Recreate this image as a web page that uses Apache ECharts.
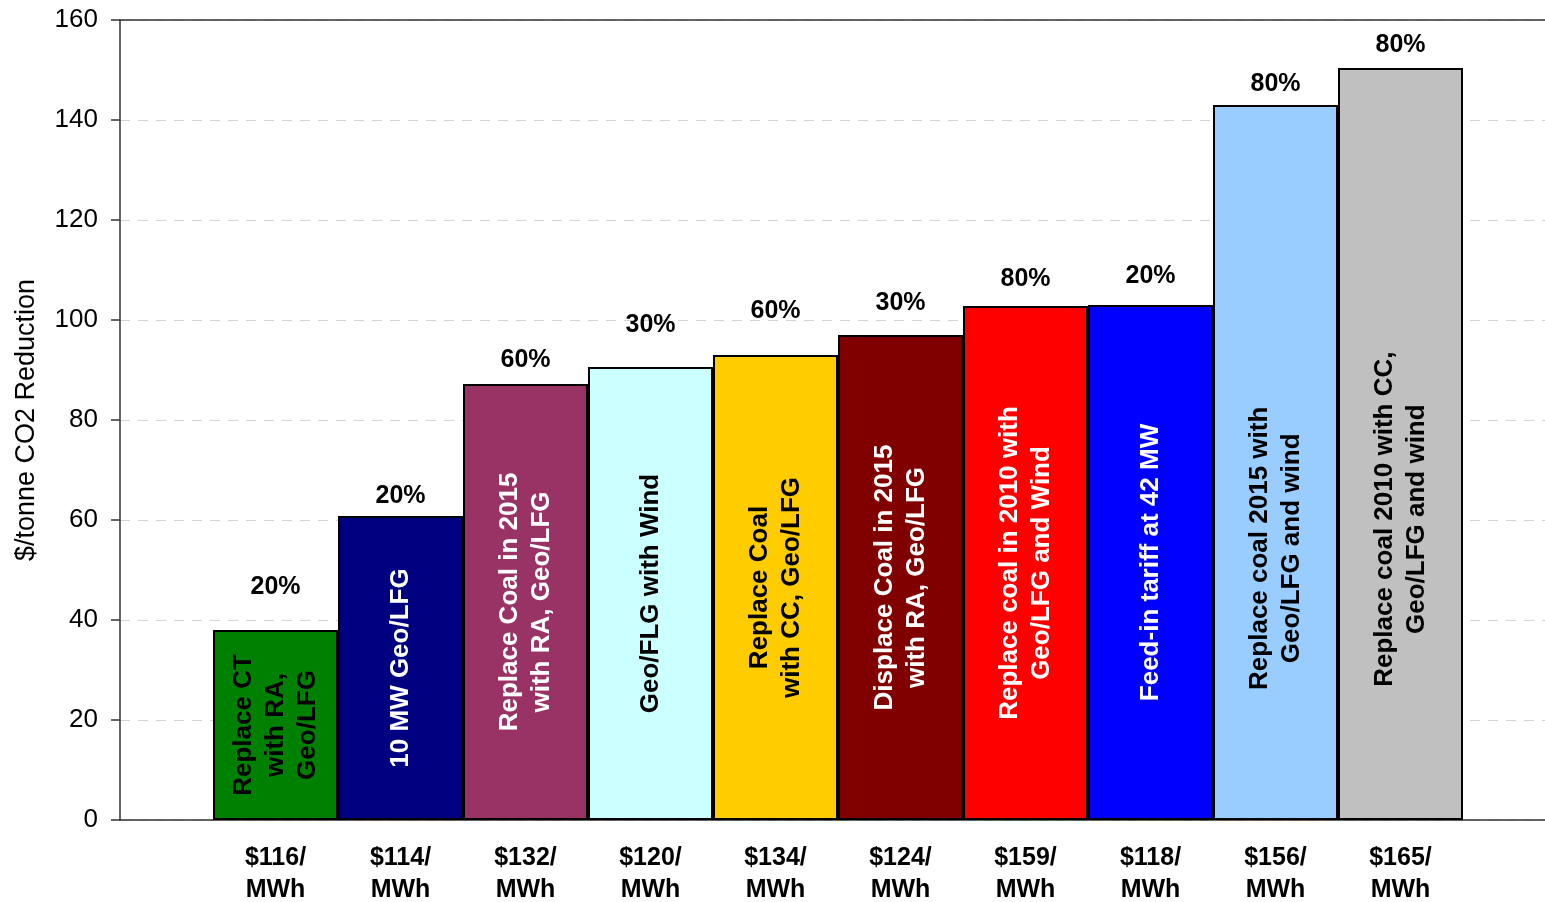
<!DOCTYPE html>
<html>
<head>
<meta charset="utf-8">
<title>Cost of CO2 reduction by option</title>
<script src="https://cdn.jsdelivr.net/npm/echarts@6/dist/echarts.min.js"></script>
<style>
  html, body { margin: 0; padding: 0; background: #ffffff; }
  #chart { width: 1545px; height: 902px; }
</style>
</head>
<body>
<div id="chart"></div>
<script>
// Options (drawn as rotated text inside each bar)
const options = [
  'Replace CT\nwith RA,\nGeo/LFG',
  '10 MW Geo/LFG',
  'Replace Coal in 2015\nwith RA, Geo/LFG',
  'Geo/FLG with Wind',
  'Replace Coal\nwith CC, Geo/LFG',
  'Displace Coal in 2015\nwith RA, Geo/LFG',
  'Replace coal in 2010 with\nGeo/LFG and Wind',
  'Feed-in tariff at 42 MW',
  'Replace coal 2015 with\nGeo/LFG and wind',
  'Replace coal 2010 with CC,\nGeo/LFG and wind'
];

// $/tonne CO2 reduction for each option
const costPerTonne = [38, 60.8, 87.2, 90.6, 93, 97, 102.8, 103, 143, 150.4];

// Share of renewables shown above each bar
const shares = ['20%', '20%', '60%', '30%', '60%', '30%', '80%', '20%', '80%', '80%'];

// Cost of energy shown under each bar ($/MWh)
const energyCost = [116, 114, 132, 120, 134, 124, 159, 118, 156, 165];

// Y axis ticks
const yMin = 0, yMax = 160, yStep = 20;

// ---- styling ----
const barColors = ['#008000', '#000080', '#993366', '#CCFFFF', '#FFCC00',
                   '#800000', '#FF0000', '#0000FF', '#99CCFF', '#C0C0C0'];
const textColors = ['#000', '#fff', '#fff', '#000', '#000',
                    '#fff', '#fff', '#fff', '#000', '#000'];
// where the rotated text sits inside a bar (null = centred)
const textPos = [null, null, null, null, null, null, null, null, ['50%', '62%'], ['50%', '60%']];
// gap between bar top and the share label
const shareGap = [30, 7, 11, 29, 31, 19, 14, 16, 8, 10];

const FONT = "'Liberation Sans', Arial, Helvetica, sans-serif";
const AXIS_COLOR = '#333';

const barData = costPerTonne.map((v, i) => {
  const lbl = {
    show: true,
    formatter: options[i],
    color: textColors[i],
    rotate: 90,
    align: 'center',
    verticalAlign: 'middle'
  };
  lbl.position = textPos[i] ? textPos[i] : 'inside';
  return { value: v, itemStyle: { color: barColors[i] }, label: lbl };
});

const shareData = costPerTonne.map((v, i) => ({
  value: v,
  label: { distance: shareGap[i] }
}));

const chart = echarts.init(document.getElementById('chart'), null, { renderer: 'canvas' });

chart.setOption({
  animation: false,
  backgroundColor: '#ffffff',
  textStyle: { fontFamily: FONT },
  grid: [
    // frame: y axis, gridlines, top and bottom lines
    { left: 120, right: 0, top: 20, bottom: 82, containLabel: false, outerBoundsMode: 'none' },
    // bars
    { left: 213, right: 82, top: 20, bottom: 82, containLabel: false, outerBoundsMode: 'none' }
  ],
  xAxis: [
    {
      gridIndex: 0, type: 'value', position: 'bottom', min: 0, max: 1,
      axisLine: { show: true, onZero: false, lineStyle: { color: AXIS_COLOR, width: 1.5 } },
      axisTick: { show: false }, axisLabel: { show: false }, splitLine: { show: false }
    },
    {
      gridIndex: 0, type: 'value', position: 'top', min: 0, max: 1,
      axisLine: { show: true, onZero: false, lineStyle: { color: AXIS_COLOR, width: 1.5 } },
      axisTick: { show: false }, axisLabel: { show: false }, splitLine: { show: false }
    },
    {
      gridIndex: 1, type: 'category', data: energyCost,
      axisLine: { show: false }, axisTick: { show: false },
      axisLabel: {
        interval: 0,
        margin: 22,
        formatter: v => '$' + v + '/\nMWh',
        fontFamily: FONT, fontSize: 25, fontWeight: 'bold', color: '#000', lineHeight: 32
      }
    }
  ],
  yAxis: [
    {
      gridIndex: 0, type: 'value', min: yMin, max: yMax, interval: yStep,
      name: '$/tonne CO2 Reduction',
      nameLocation: 'middle', nameRotate: 90, nameGap: 80,
      nameTextStyle: { fontFamily: FONT, fontSize: 27, color: '#000' },
      axisLine: { show: true, onZero: false, lineStyle: { color: AXIS_COLOR, width: 1.5 } },
      axisTick: { show: true, inside: false, length: 9, lineStyle: { color: AXIS_COLOR, width: 1.5 } },
      axisLabel: { margin: 22, fontFamily: FONT, fontSize: 26, color: '#000' },
      splitLine: { show: true, lineStyle: { color: '#d4d4d4', width: 1, type: [10, 8] } }
    },
    {
      gridIndex: 1, type: 'value', min: yMin, max: yMax, interval: yStep,
      show: false, splitLine: { show: false }
    }
  ],
  series: [
    {
      type: 'bar',
      xAxisIndex: 2, yAxisIndex: 1,
      barWidth: '100%',
      barGap: '-100%',
      itemStyle: { borderColor: '#000', borderWidth: 2 },
      label: {
        show: true, fontFamily: FONT, fontSize: 26, fontWeight: 'bold', lineHeight: 32
      },
      data: barData,
      z: 3
    },
    {
      type: 'bar',
      xAxisIndex: 2, yAxisIndex: 1,
      barWidth: '100%',
      barGap: '-100%',
      itemStyle: { color: 'rgba(0,0,0,0)', borderWidth: 0 },
      label: {
        show: true, position: 'top',
        formatter: p => shares[p.dataIndex],
        fontFamily: FONT, fontSize: 25, fontWeight: 'bold', color: '#000'
      },
      emphasis: { disabled: true },
      data: shareData,
      z: 4
    }
  ]
});
</script>
</body>
</html>
